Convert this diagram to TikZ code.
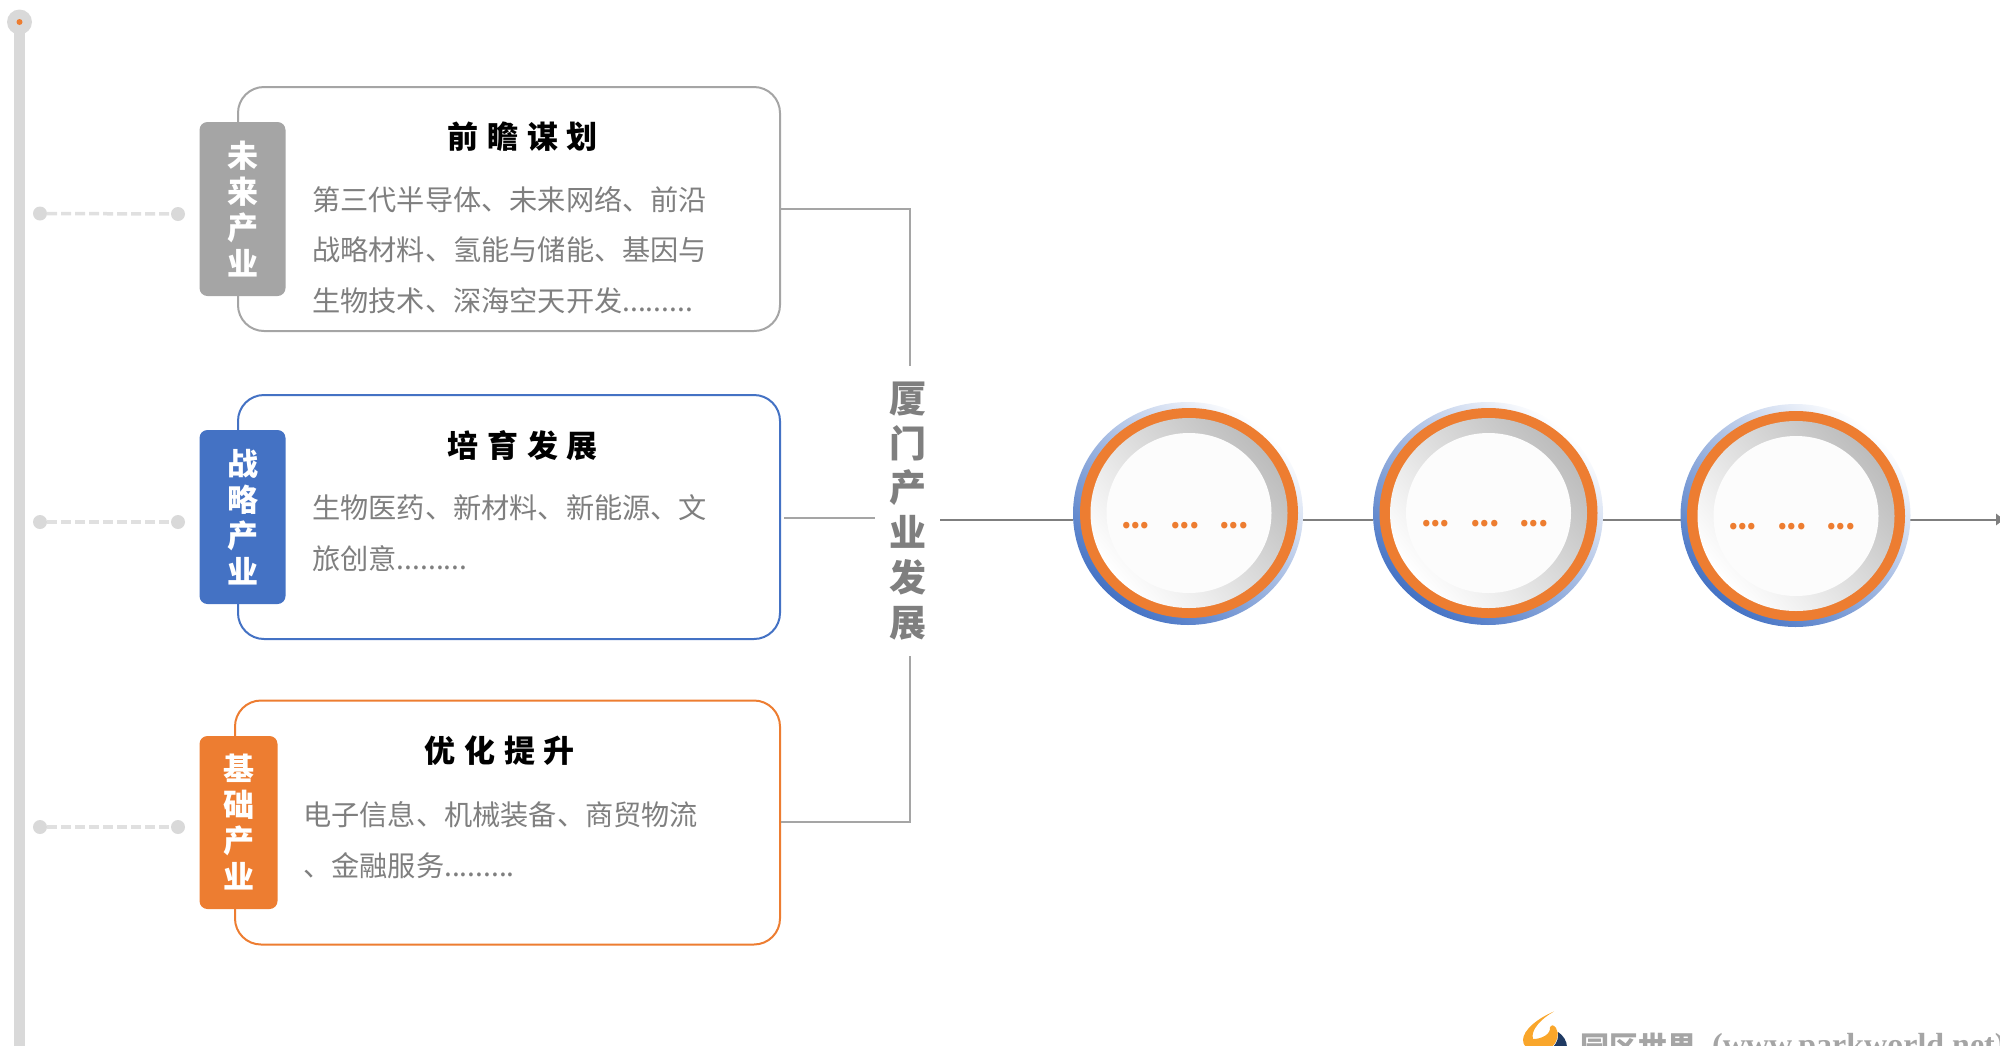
\documentclass[tikz,border=0pt]{standalone}
\usepackage{fontspec}
\usetikzlibrary{arrows.meta,shapes.geometric}
\setmainfont{Noto Sans CJK SC}
\newfontfamily\serifpart{Liberation Serif}
\definecolor{cgray}{HTML}{A5A5A5}
\definecolor{cblue}{HTML}{4472C4}
\definecolor{corange}{HTML}{ED7D31}
\definecolor{ctext}{HTML}{7F7F7F}
\definecolor{crail}{HTML}{D9D9D9}
\definecolor{cdash}{HTML}{E0E0E0}
\definecolor{clogo}{HTML}{F9A62B}
\definecolor{cnavy}{HTML}{1F3A63}
\newcommand{\mydots}{.........}
\newcommand{\spaced}[1]{{\addfontfeature{LetterSpace=28}#1}}
\newcommand{\tight}{\addfontfeature{LetterSpace=-4}}
\tikzset{
  x=1pt,y=-1pt,
  panel/.style={draw=#1,line width=2pt,rounded corners=26pt,fill=white,inner sep=0pt},
  tagbox/.style={fill=#1,rounded corners=8pt,inner sep=0pt,text=white,font=\fontsize{31}{36}\selectfont\bfseries,align=center},
  headtext/.style={font=\fontsize{31}{36}\selectfont\bfseries,text=black,inner sep=0pt},
  bodytext/.style={font=\fontsize{28.2}{50.5}\selectfont,text=ctext,align=left,inner sep=0pt,anchor=north west},
  feed/.style={draw=cgray,line width=1.3pt},
  flow/.style={draw=ctext,line width=2pt},
  spot/.style={circle,fill=crail,minimum size=14pt,inner sep=0pt},
  dashlink/.style={draw=cdash,line width=3.5pt,dash pattern=on 10pt off 4pt},
  halo/.style={ellipse,minimum width=230pt,minimum height=223pt,inner sep=0pt,top color=white,middle color=cblue!35,bottom color=cblue,shading angle=-40},
  ringo/.style={ellipse,minimum width=218pt,minimum height=210pt,inner sep=0pt,fill=corange},
  ringg/.style={ellipse,minimum width=197pt,minimum height=190pt,inner sep=0pt,top color=black!26,middle color=black!9,bottom color=white,shading angle=-50},
  disc/.style={ellipse,minimum width=165pt,minimum height=160pt,inner sep=0pt,fill=black!1},
  dotstext/.style={font=\fontsize{30}{36}\selectfont\bfseries,text=corange,inner sep=0pt,anchor=base},
}
\newcommand{\orb}[5]{% name, halo cx, cy, ring cx, ring cy
  \node[halo] (#1h) at (#2,#3) {};
  \node[ringo] (#1) at (#4,#5) {};
  \node[ringg] (#1g) at (#4,#5) {};
  \node[disc] (#1d) at (#4,#5) {};
}
\begin{document}
\begin{tikzpicture}
\useasboundingbox (0,0) rectangle (2000,1045);
\clip (0,0) rectangle (2000,1045);
% rail
\node[circle,fill=crail,minimum size=25pt,inner sep=0pt] (railtop) at (19.5,22) {};
\coordinate (railend) at (19.5,1046);
\draw[crail,line width=10.6pt] (railtop.center) -- (railend);
\node[circle,fill=corange,minimum size=6pt,inner sep=0pt] (raildot) at (19.5,22) {};
% panels
\node[panel=cgray,minimum width=542pt,minimum height=244pt] (p1) at (509,209) {};
\node[panel=cblue,minimum width=542pt,minimum height=244pt] (p2) at (509,517) {};
\node[panel=corange,minimum width=545pt,minimum height=244pt] (p3) at (507.5,822.5) {};
% tags
\node[tagbox=cgray,minimum width=86pt,minimum height=174pt] (t1) at (242.5,209) {未\\来\\产\\业};
\node[tagbox=cblue,minimum width=86pt,minimum height=174pt] (t2) at (242.5,517) {战\\略\\产\\业};
\node[tagbox=corange,minimum width=78pt,minimum height=173pt] (t3) at (238.5,822.5) {基\\础\\产\\业};
% spots
\node[spot] (a1) at (40,213.5) {};
\node[spot] (b1) at (178,214) {};
\node[spot] (a2) at (40,522) {};
\node[spot] (b2) at (178,522) {};
\node[spot] (a3) at (40,827) {};
\node[spot] (b3) at (178,827) {};
\draw[dashlink] (a1) -- (b1);
\draw[dashlink] (a2) -- (b2);
\draw[dashlink] (a3) -- (b3);
% text
\node[headtext] (h1) at (523,136.5) {\spaced{前瞻谋划}};
\node[headtext] (h2) at (523,445.5) {\spaced{培育发展}};
\node[headtext] (h3) at (500,751) {\spaced{优化提升}};
\node[bodytext] (d1) at (312,186) {第三代半导体、未来网络、前沿\\战略材料、氢能与储能、基因与\\生物技术、深海空天开发\mydots};
\node[bodytext] (d2) at (312,494.5) {生物医药、新材料、新能源、文\\旅创意\mydots};
\node[bodytext] (d3) at (303,801.5) {电子信息、机械装备、商贸物流\\、金融服务\mydots};
% centre
\node[inner sep=0pt,text=ctext,font=\fontsize{37}{44.8}\selectfont\bfseries,align=center] (mid) at (908,511) {厦\\门\\产\\业\\发\\展};
\coordinate (j1) at (910,209);
\coordinate (j1e) at (910,366);
\coordinate (j3) at (910,822);
\coordinate (j3e) at (910,656);
\coordinate (j2) at (875,518);
\draw[feed] (p1.east |- j1) -- (j1) -- (j1e);
\draw[feed] (j3e) -- (j3) -- (p3.east |- j3);
\draw[feed] (p2.east |- j2) ++(3,0) -- (j2);
% flow
\coordinate (m0) at (940,519.5);
\coordinate (m1) at (1073,519.5);
\coordinate (m2) at (1303,519.5);
\coordinate (m3) at (1373,519.5);
\coordinate (m4) at (1600,519.5);
\coordinate (m5) at (1681,519.5);
\coordinate (m6) at (1910,519.5);
\coordinate (m7) at (2005,519.5);
\draw[flow] (m0) -- (m1);
\draw[flow] (m2) -- (m3);
\draw[flow] (m4) -- (m5);
\draw[flow,-{Latex[length=9pt,width=13pt]}] (m6) -- (m7);
\orb{c1}{1188}{513.5}{1189}{513}
\orb{c2}{1488}{513.5}{1488.5}{513}
\orb{c3}{1795.5}{515.5}{1796}{516}
\foreach \n/\xx/\yy in {c1/1185/528,c2/1485/526.5,c3/1792/529}{
  \node[dotstext] (\n t) at (\xx,\yy) {\tight ...\hspace{20pt}...\hspace{20pt}...};
}
% logo
\fill[clogo] (1554,1011.5) .. controls (1538,1018) and (1523,1030) .. (1523,1040)
  .. controls (1523,1043) and (1524,1045) .. (1526,1047) -- (1552,1047)
  .. controls (1557,1042) and (1560,1034) .. (1556,1028)
  .. controls (1553,1024) and (1551,1025) .. (1550,1027)
  .. controls (1551,1034) and (1542,1039) .. (1533,1039)
  .. controls (1530,1030) and (1542,1018) .. (1554,1011.5) -- cycle;
\fill[cnavy] (1558,1032) .. controls (1563,1035) and (1567,1041) .. (1567,1047) -- (1553,1047) .. controls (1557,1043) and (1559,1037) .. (1558,1032) -- cycle;
\node[inner sep=0pt,anchor=base west,text=cgray,font=\fontsize{29}{32}\selectfont\bfseries] (logoz) at (1580,1057) {园区世界};
\node[inner sep=0pt,anchor=base west,text=cgray,font=\fontsize{32}{32}\selectfont\bfseries\serifpart] (logou) at (1712,1055) {(www.parkworld.net)};
\end{tikzpicture}
\end{document}
